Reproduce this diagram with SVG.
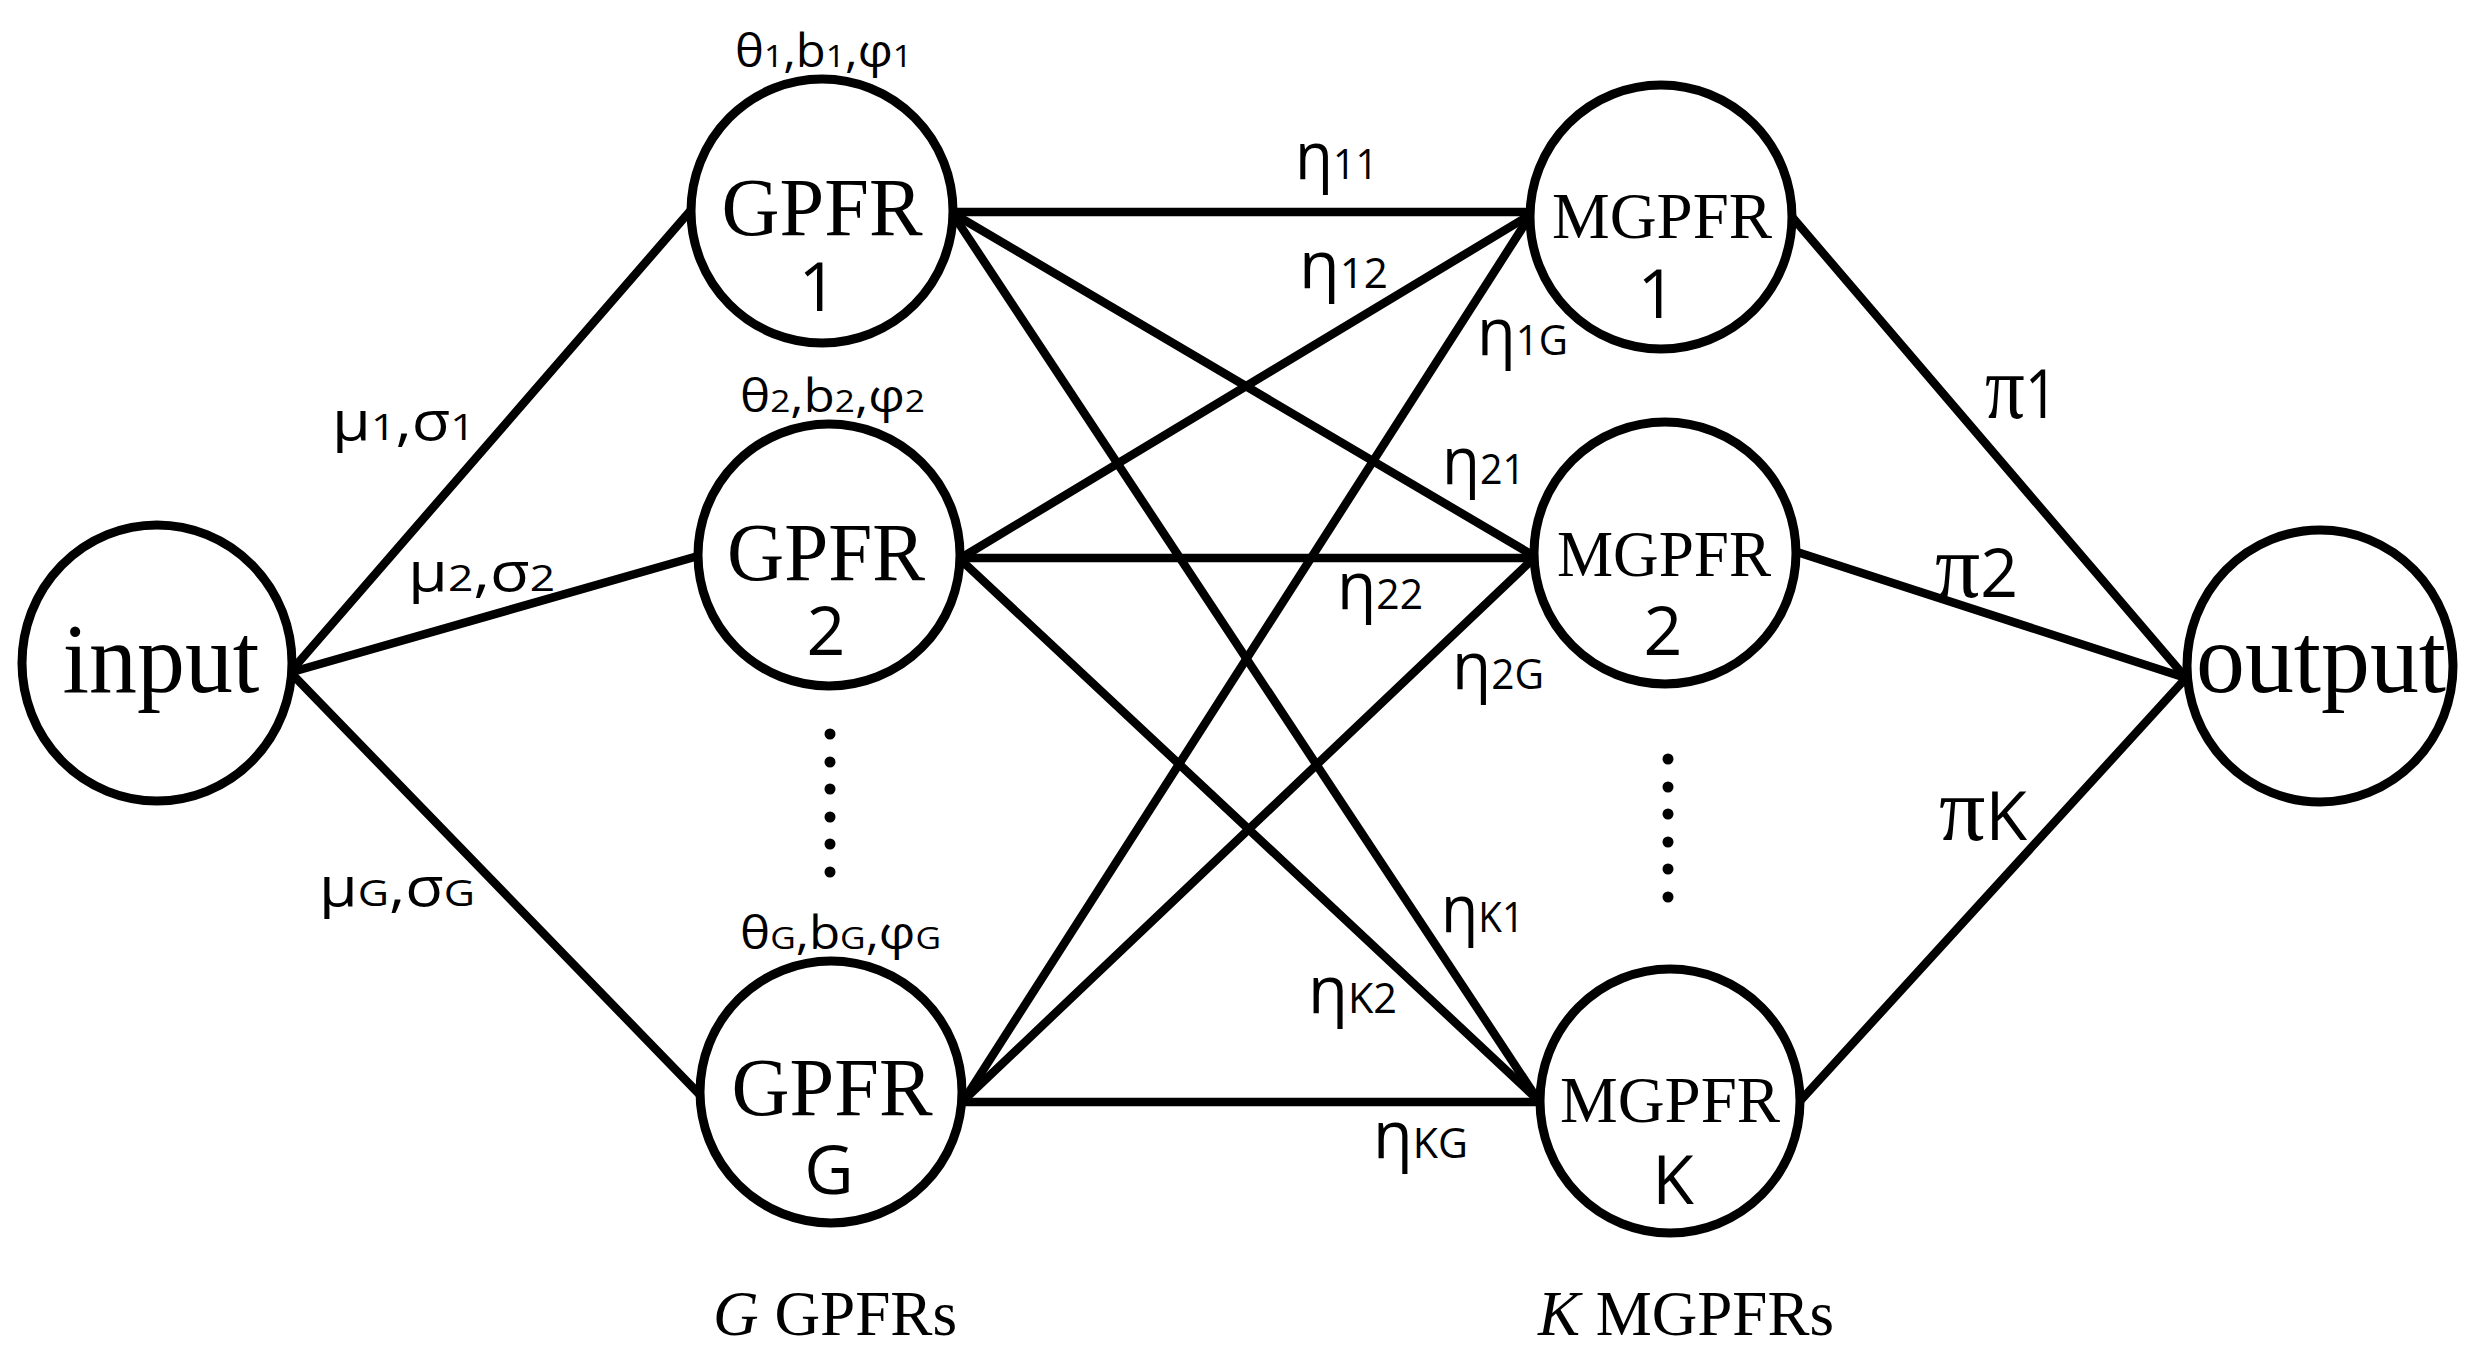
<svg xmlns="http://www.w3.org/2000/svg" width="2474" height="1361" viewBox="0 0 2474 1361">
<style>
.node{fill:#fff;stroke:#000;stroke-width:9}
.edge{stroke:#000;stroke-width:8.5;stroke-linecap:round;fill:none}
.serif{font-family:"Liberation Serif","Times New Roman",serif;fill:#000}
.sans{font-family:"Open Sans","Noto Sans","DejaVu Sans",sans-serif;fill:#000}
.nt{font-size:82px}
.mt{font-size:65px}
.num{font-size:68px}
.th{font-size:45px}
.mu{font-size:54px}
.eta{font-size:66px}
.sub{font-size:42px}
.ssub{font-size:31px}
.msub{font-size:37px}
.pi{font-size:92px}
.pin{font-size:68px}
.dot{fill:#000}
</style>
<rect width="2474" height="1361" fill="#fff"/>
<g id="connectors">
<line class="edge" x1="292" y1="670" x2="691" y2="210"/>
<line class="edge" x1="292" y1="672" x2="698" y2="556"/>
<line class="edge" x1="292" y1="674" x2="702" y2="1097"/>
<line class="edge" x1="954" y1="212" x2="1530" y2="212"/>
<line class="edge" x1="954" y1="214" x2="1534" y2="556"/>
<line class="edge" x1="954" y1="216" x2="1538" y2="1100"/>
<line class="edge" x1="961" y1="558" x2="1530" y2="215"/>
<line class="edge" x1="961" y1="558" x2="1534" y2="558"/>
<line class="edge" x1="961" y1="560" x2="1538" y2="1100"/>
<line class="edge" x1="964" y1="1100" x2="1530" y2="216"/>
<line class="edge" x1="964" y1="1100" x2="1534" y2="558"/>
<line class="edge" x1="964" y1="1102" x2="1538" y2="1102"/>
<line class="edge" x1="1793" y1="218" x2="2186" y2="678"/>
<line class="edge" x1="1797" y1="552" x2="2186" y2="678"/>
<line class="edge" x1="1801" y1="1100" x2="2186" y2="678"/>
</g>
<g id="node-input">
<ellipse class="node" cx="157" cy="663" rx="135" ry="138"/>
<text class="serif" x="161" y="692" font-size="100" text-anchor="middle" textLength="197" lengthAdjust="spacingAndGlyphs">input</text>
</g>
<g id="node-gpfr1">
<ellipse class="node" cx="822" cy="211" rx="131" ry="132"/>
<text class="serif nt" x="822" y="235" text-anchor="middle" textLength="201" lengthAdjust="spacingAndGlyphs">GPFR</text>
<text class="sans num" x="818" y="311" text-anchor="middle">1</text>
</g>
<g id="node-gpfr2">
<ellipse class="node" cx="829" cy="555" rx="131" ry="131"/>
<text class="serif nt" x="826" y="580" text-anchor="middle" textLength="198" lengthAdjust="spacingAndGlyphs">GPFR</text>
<text class="sans num" x="826" y="655" text-anchor="middle">2</text>
</g>
<g id="node-gpfrG">
<ellipse class="node" cx="831" cy="1092" rx="131" ry="131"/>
<text class="serif nt" x="832" y="1115" text-anchor="middle" textLength="201" lengthAdjust="spacingAndGlyphs">GPFR</text>
<text class="sans num" x="829" y="1194" text-anchor="middle">G</text>
</g>
<g id="node-mgpfr1">
<ellipse class="node" cx="1661" cy="217" rx="131" ry="132"/>
<text class="serif mt" x="1662" y="238" text-anchor="middle" textLength="220" lengthAdjust="spacingAndGlyphs">MGPFR</text>
<text class="sans num" x="1657" y="318" text-anchor="middle">1</text>
</g>
<g id="node-mgpfr2">
<ellipse class="node" cx="1665" cy="553" rx="131" ry="131"/>
<text class="serif mt" x="1664" y="576" text-anchor="middle" textLength="214" lengthAdjust="spacingAndGlyphs">MGPFR</text>
<text class="sans num" x="1663" y="655" text-anchor="middle">2</text>
</g>
<g id="node-mgpfrK">
<ellipse class="node" cx="1670" cy="1101" rx="130" ry="132"/>
<text class="serif mt" x="1670" y="1122" text-anchor="middle" textLength="220" lengthAdjust="spacingAndGlyphs">MGPFR</text>
<text class="sans num" x="1673" y="1204" text-anchor="middle">K</text>
</g>
<g id="node-output">
<ellipse class="node" cx="2320" cy="666" rx="133" ry="136"/>
<text class="serif" x="2321" y="692" font-size="100" text-anchor="middle" textLength="250" lengthAdjust="spacingAndGlyphs">output</text>
</g>
<g id="dots">
<circle class="dot" cx="830" cy="734" r="5.5"/>
<circle class="dot" cx="830" cy="762" r="5.5"/>
<circle class="dot" cx="830" cy="789" r="5.5"/>
<circle class="dot" cx="830" cy="817" r="5.5"/>
<circle class="dot" cx="830" cy="844" r="5.5"/>
<circle class="dot" cx="830" cy="872" r="5.5"/>
<circle class="dot" cx="1668" cy="759" r="5.5"/>
<circle class="dot" cx="1668" cy="787" r="5.5"/>
<circle class="dot" cx="1668" cy="814" r="5.5"/>
<circle class="dot" cx="1668" cy="842" r="5.5"/>
<circle class="dot" cx="1668" cy="869" r="5.5"/>
<circle class="dot" cx="1668" cy="897" r="5.5"/>
</g>
<g id="labels">
<text class="sans th" x="735" y="67" textLength="177" lengthAdjust="spacingAndGlyphs">θ<tspan class="ssub">1</tspan>,b<tspan class="ssub">1</tspan>,φ<tspan class="ssub">1</tspan></text>
<text class="sans th" x="740" y="412" textLength="185" lengthAdjust="spacingAndGlyphs">θ<tspan class="ssub">2</tspan>,b<tspan class="ssub">2</tspan>,φ<tspan class="ssub">2</tspan></text>
<text class="sans th" x="740" y="949" textLength="201" lengthAdjust="spacingAndGlyphs">θ<tspan class="ssub">G</tspan>,b<tspan class="ssub">G</tspan>,φ<tspan class="ssub">G</tspan></text>
<text class="sans mu" x="332" y="440" textLength="143" lengthAdjust="spacingAndGlyphs">μ<tspan class="msub">1</tspan>,σ<tspan class="msub">1</tspan></text>
<text class="sans mu" x="408" y="591" textLength="147" lengthAdjust="spacingAndGlyphs">μ<tspan class="msub">2</tspan>,σ<tspan class="msub">2</tspan></text>
<text class="sans mu" x="319" y="906" textLength="156" lengthAdjust="spacingAndGlyphs">μ<tspan class="msub">G</tspan>,σ<tspan class="msub">G</tspan></text>
<text class="sans eta" x="1295" y="179" textLength="83" lengthAdjust="spacingAndGlyphs">η<tspan class="sub">11</tspan></text>
<text class="sans eta" x="1299" y="288" textLength="89" lengthAdjust="spacingAndGlyphs">η<tspan class="sub">12</tspan></text>
<text class="sans eta" x="1477" y="355" textLength="91" lengthAdjust="spacingAndGlyphs">η<tspan class="sub">1G</tspan></text>
<text class="sans eta" x="1442" y="484" textLength="83" lengthAdjust="spacingAndGlyphs">η<tspan class="sub">21</tspan></text>
<text class="sans eta" x="1337" y="609" textLength="86" lengthAdjust="spacingAndGlyphs">η<tspan class="sub">22</tspan></text>
<text class="sans eta" x="1452" y="689" textLength="92" lengthAdjust="spacingAndGlyphs">η<tspan class="sub">2G</tspan></text>
<text class="sans eta" x="1441" y="932" textLength="83" lengthAdjust="spacingAndGlyphs">η<tspan class="sub">K1</tspan></text>
<text class="sans eta" x="1308" y="1013" textLength="89" lengthAdjust="spacingAndGlyphs">η<tspan class="sub">K2</tspan></text>
<text class="sans eta" x="1373" y="1158" textLength="95" lengthAdjust="spacingAndGlyphs">η<tspan class="sub">KG</tspan></text>
<text class="serif pi" x="1985" y="418" textLength="73" lengthAdjust="spacingAndGlyphs">π<tspan class="sans pin">1</tspan></text>
<text class="serif pi" x="1935" y="597" textLength="83" lengthAdjust="spacingAndGlyphs">π<tspan class="sans pin">2</tspan></text>
<text class="serif pi" x="1939" y="840" textLength="88" lengthAdjust="spacingAndGlyphs">π<tspan class="sans pin">K</tspan></text>
<text class="serif" x="713" y="1335" font-size="63" textLength="244" lengthAdjust="spacingAndGlyphs"><tspan font-style="italic">G</tspan> GPFRs</text>
<text class="serif" x="1538" y="1335" font-size="63" textLength="296" lengthAdjust="spacingAndGlyphs"><tspan font-style="italic">K</tspan> MGPFRs</text>
</g>
</svg>
